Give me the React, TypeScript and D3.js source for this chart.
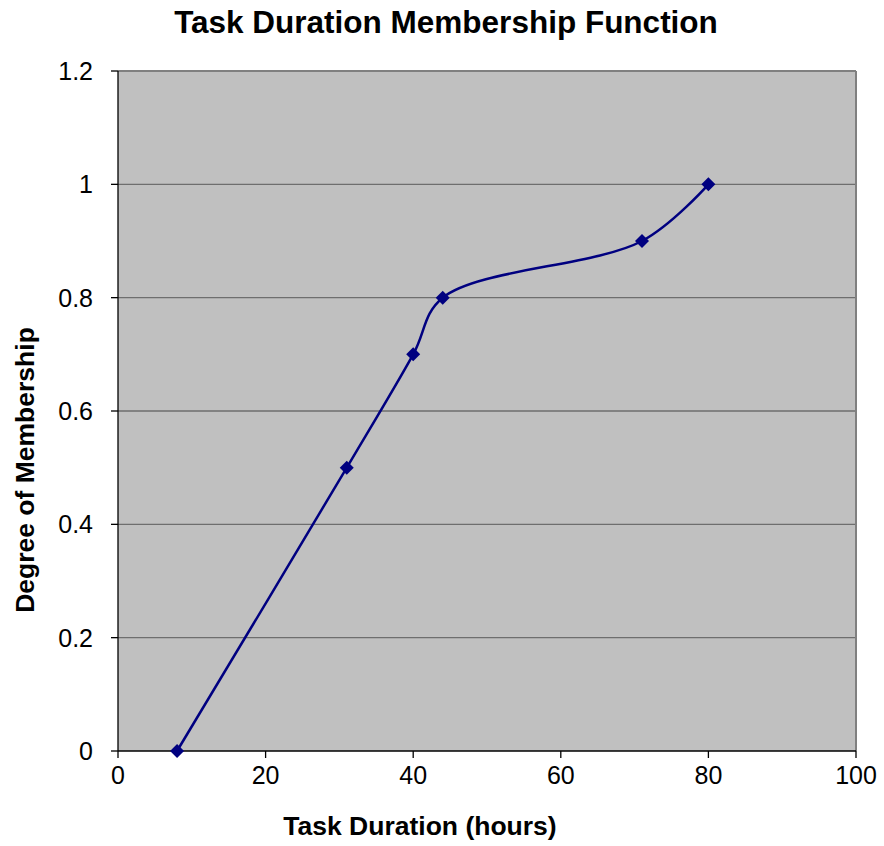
import React from "react";
import * as d3 from "d3";

const durations = [8, 31, 40, 44, 71, 80];
const membership = [0, 0.5, 0.7, 0.8, 0.9, 1.0];
const xTicks = [0, 20, 40, 60, 80, 100];
const yTicks = [0, 0.2, 0.4, 0.6, 0.8, 1, 1.2];

const W = 884, H = 846;
const L = 118, R = 856, T = 71, B = 751;

export default function App() {
  const x = d3.scaleLinear().domain([0, 100]).range([L, R]);
  const y = d3.scaleLinear().domain([0, 1.2]).range([B, T]);
  const pts = durations.map((d, i) => [x(d), y(membership[i])] as [number, number]);
  const line = d3.line().curve(d3.curveCatmullRom.alpha(0.5))(pts) || "";
  const font = "Arial, 'Liberation Sans', sans-serif";
  const m = 7;
  return (
    <svg width={W} height={H} style={{ position: "absolute", left: 0, top: 0, background: "#fff" }} fontFamily={font}>
      <rect x={L} y={T} width={R - L} height={B - T} fill="#C0C0C0" />
      {yTicks.filter(t => t > 0).map(t => (
        <line key={t} x1={L} x2={R} y1={y(t)} y2={y(t)} stroke="#6e6e6e" strokeWidth={1.3} />
      ))}
      <line x1={L} x2={R} y1={T} y2={T} stroke="#808080" strokeWidth={2} />
      <line x1={R} x2={R} y1={T} y2={B} stroke="#808080" strokeWidth={2} />
      <line x1={L} x2={L} y1={T} y2={B} stroke="#000" strokeWidth={1.3} />
      <line x1={L} x2={R} y1={B} y2={B} stroke="#000" strokeWidth={1.3} />
      {yTicks.map(t => (
        <g key={t}>
          <line x1={L - 7} x2={L} y1={y(t)} y2={y(t)} stroke="#000" strokeWidth={1.3} />
          <text x={L - 25} y={y(t)} dy="0.36em" textAnchor="end" fontSize={25}>{t}</text>
        </g>
      ))}
      {xTicks.map(t => (
        <g key={t}>
          <line x1={x(t)} x2={x(t)} y1={B} y2={B + 7} stroke="#000" strokeWidth={1.3} />
          <text x={x(t)} y={B + 33} textAnchor="middle" fontSize={25}>{t}</text>
        </g>
      ))}
      <path d={line} fill="none" stroke="#000080" strokeWidth={2.5} />
      {pts.map((p, i) => (
        <path key={i} d={`M${p[0]},${p[1] - m}L${p[0] + m},${p[1]}L${p[0]},${p[1] + m}L${p[0] - m},${p[1]}Z`} fill="#000080" />
      ))}
      <text x={446} y={33} textAnchor="middle" fontSize={31.5} fontWeight="bold">Task Duration Membership Function</text>
      <text x={420} y={835} textAnchor="middle" fontSize={26.5} fontWeight="bold">Task Duration (hours)</text>
      <text transform={`translate(34,470) rotate(-90)`} textAnchor="middle" fontSize={26.5} fontWeight="bold">Degree of Membership</text>
    </svg>
  );
}
